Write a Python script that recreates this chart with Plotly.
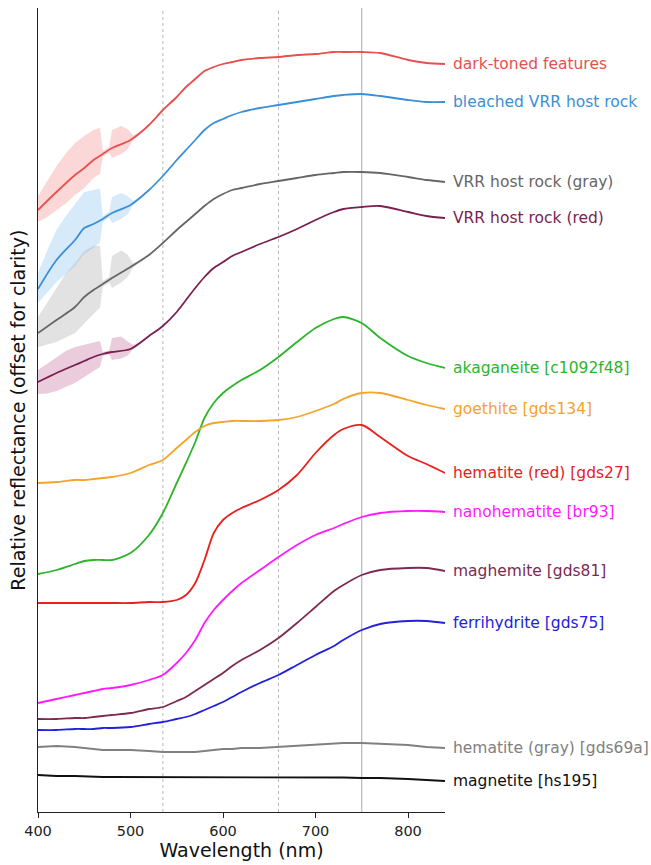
import numpy as np
import plotly.graph_objects as go

# Wavelength samples (nm)
wavelength = [400, 420, 440, 450, 460, 470, 480, 500, 520, 535, 550, 560, 570, 580, 590,
              600, 610, 620, 640, 660, 680, 700, 720, 730, 750, 770, 800, 820, 840]

# Offset relative reflectance (arbitrary units)
dark_toned = [602, 620, 637, 644, 652, 658, 664, 672, 687, 702, 715, 725, 733, 741, 745,
              748, 750, 752, 754, 755, 757, 758, 760, 760, 760, 759, 752, 749, 748]
bleached = [523, 552, 572, 584, 588, 593, 599, 607, 622, 636, 652, 662, 672, 682, 689,
            693, 697, 700, 704, 707, 710, 713, 716, 717, 718, 716, 712, 710, 710]
vrr_gray = [479, 492, 505, 515, 522, 528, 534, 545, 557, 569, 582, 590, 598, 606, 613,
            618, 622, 624, 628, 631, 634, 637, 639, 640, 640, 639, 635, 632, 630]
vrr_red = [430, 439, 447, 451, 455, 458, 460, 463, 476, 486, 500, 512, 524, 535, 544,
           550, 556, 560, 568, 575, 583, 592, 600, 603, 605, 606, 600, 596, 594]
akaganeite = [238, 242, 248, 251, 252, 252, 252, 259, 277, 299, 329, 349, 370, 394, 409,
              419, 426, 432, 442, 455, 470, 484, 493, 495, 489, 474, 456, 449, 444]
goethite = [329, 330, 332, 332, 333, 334, 335, 339, 347, 352, 364, 372, 380, 386, 389,
            390, 391, 391, 391, 392, 395, 401, 408, 413, 419, 419, 412, 407, 403]
hematite_red = [209, 209, 209, 209, 209, 209, 209, 209, 210, 210, 212, 217, 229, 252, 279,
                292, 299, 304, 312, 322, 337, 359, 377, 383, 387, 375, 356, 348, 339]
nanohematite = [109, 113, 117, 119, 121, 123, 124, 127, 132, 137, 149, 159, 172, 189, 202,
                212, 221, 229, 242, 255, 267, 277, 284, 288, 295, 299, 301, 301, 300]
maghemite = [93, 93, 94, 94, 95, 96, 97, 99, 103, 105, 111, 115, 121, 127, 133,
             139, 146, 152, 162, 174, 189, 205, 221, 227, 237, 242, 244, 244, 241]
ferrihydrite = [82, 82, 83, 83, 83, 84, 84, 85, 88, 90, 93, 95, 98, 102, 106,
                110, 115, 120, 129, 137, 147, 157, 166, 172, 182, 188, 191, 191, 189]
hematite_gray = [65, 66, 65, 64, 63, 62, 62, 62, 61, 60, 60, 60, 60, 61, 62,
                 63, 63, 64, 64, 65, 66, 67, 68, 69, 69, 68, 67, 65, 64]
magnetite = [37, 36, 36, 35.5, 35, 35, 35, 35, 35, 35, 35, 35, 35, 35, 35,
             35, 35, 35, 35, 35, 35, 35, 35, 34.5, 34, 34, 33, 32, 31]

# Spread of the raw (unsmoothed) rover spectra above / below the smoothed curve
noise_wl = [400, 410, 420, 430, 440, 450, 460, 467, 470, 477, 480, 490, 497, 503, 512]
noise_dark_up = [14, 20, 26, 30, 32, 32, 30, 28, 3, 3, 18, 18, 12, 2, 0]
noise_dark_dn = [12, 16, 18, 20, 20, 20, 18, 18, 3, 3, 10, 10, 8, 2, 0]
noise_bleached_up = [16, 24, 30, 34, 36, 36, 34, 32, 3, 3, 16, 16, 10, 2, 0]
noise_bleached_dn = [14, 18, 22, 24, 26, 26, 24, 22, 3, 3, 10, 10, 8, 2, 0]
noise_gray_up = [16, 24, 32, 40, 44, 46, 44, 40, 3, 3, 22, 22, 14, 2, 0]
noise_gray_dn = [14, 18, 22, 24, 26, 26, 24, 22, 3, 3, 10, 10, 8, 2, 0]
noise_red_up = [12, 14, 16, 18, 18, 16, 14, 14, 2, 2, 14, 14, 8, 2, 0]
noise_red_dn = [12, 16, 18, 18, 18, 16, 14, 12, 2, 2, 8, 8, 6, 2, 0]

band_centers = [535, 660, 750]

labels = ["dark-toned features", "bleached VRR host rock", "VRR host rock (gray)",
          "VRR host rock (red)", "akaganeite [c1092f48]", "goethite [gds134]",
          "hematite (red) [gds27]", "nanohematite [br93]", "maghemite [gds81]",
          "ferrihydrite [gds75]", "hematite (gray) [gds69a]", "magnetite [hs195]"]
series = [dark_toned, bleached, vrr_gray, vrr_red, akaganeite, goethite, hematite_red,
          nanohematite, maghemite, ferrihydrite, hematite_gray, magnetite]
colors = ["#e8504f", "#3b8fd6", "#666666", "#7a1f4f", "#2cb52c", "#f5a32a", "#e8201e",
          "#ff1aff", "#7d2a50", "#2222dd", "#808080", "#111111"]
noise_sets = [(dark_toned, noise_dark_up, noise_dark_dn, "rgba(245,150,150,0.38)"),
              (bleached, noise_bleached_up, noise_bleached_dn, "rgba(150,200,240,0.38)"),
              (vrr_gray, noise_gray_up, noise_gray_dn, "rgba(180,180,180,0.38)"),
              (vrr_red, noise_red_up, noise_red_dn, "rgba(200,120,165,0.38)")]

FONT = "DejaVu Sans"
fig = go.Figure()

for base, up, dn, fc in noise_sets:
    center = np.interp(noise_wl, wavelength, base)
    upper = center + np.array(up)
    lower = center - np.array(dn)
    fig.add_trace(go.Scatter(
        x=list(noise_wl) + list(noise_wl[::-1]),
        y=list(upper) + list(lower[::-1]),
        fill="toself", fillcolor=fc, line=dict(width=0),
        mode="lines", hoverinfo="skip", showlegend=False))

for i, (name, ys, c) in enumerate(zip(labels, series, colors)):
    flat = i >= 10
    fig.add_trace(go.Scatter(
        x=wavelength, y=ys, mode="lines", name=name,
        line=dict(color=c, width=1.8,
                  shape="linear" if flat else "spline",
                  smoothing=None if flat else 0.8),
        showlegend=False))

for name, ys, c in zip(labels, series, colors):
    fig.add_annotation(x=wavelength[-1], y=ys[-1], text=name, showarrow=False,
                       xanchor="left", yanchor="middle", xshift=6,
                       font=dict(family=FONT, size=15.5, color=c))

for i, b in enumerate(band_centers):
    last = i == len(band_centers) - 1
    fig.add_shape(type="line", x0=b, x1=b, y0=0, y1=1, xref="x", yref="paper",
                  layer="below",
                  line=dict(color="#a8a8a8" if last else "#b8b8b8", width=1,
                            dash="solid" if last else "dot"))

fig.add_annotation(text="Relative reflectance (offset for clarity)", textangle=-90,
                   xref="paper", yref="paper", x=-0.05, y=0.5,
                   xanchor="center", yanchor="middle", showarrow=False,
                   font=dict(family=FONT, size=19, color="#111111"))

fig.update_layout(
    width=651, height=865,
    margin=dict(l=38, r=206, t=8, b=53),
    paper_bgcolor="white", plot_bgcolor="white",
    font=dict(family=FONT, color="#111111"),
    xaxis=dict(range=[400, 840], tickvals=[400, 500, 600, 700, 800],
               ticks="outside", ticklen=5, tickcolor="#222222",
               showline=True, linecolor="#222222", linewidth=1.3,
               showgrid=False, zeroline=False,
               tickfont=dict(family=FONT, size=14.5, color="#222222"),
               title=dict(text="Wavelength (nm)", standoff=4,
                          font=dict(family=FONT, size=19, color="#111111"))),
    yaxis=dict(range=[0, 804], showticklabels=False, ticks="",
               showline=True, linecolor="#222222", linewidth=1.3,
               showgrid=False, zeroline=False),
)

fig.write_html("out.html")
